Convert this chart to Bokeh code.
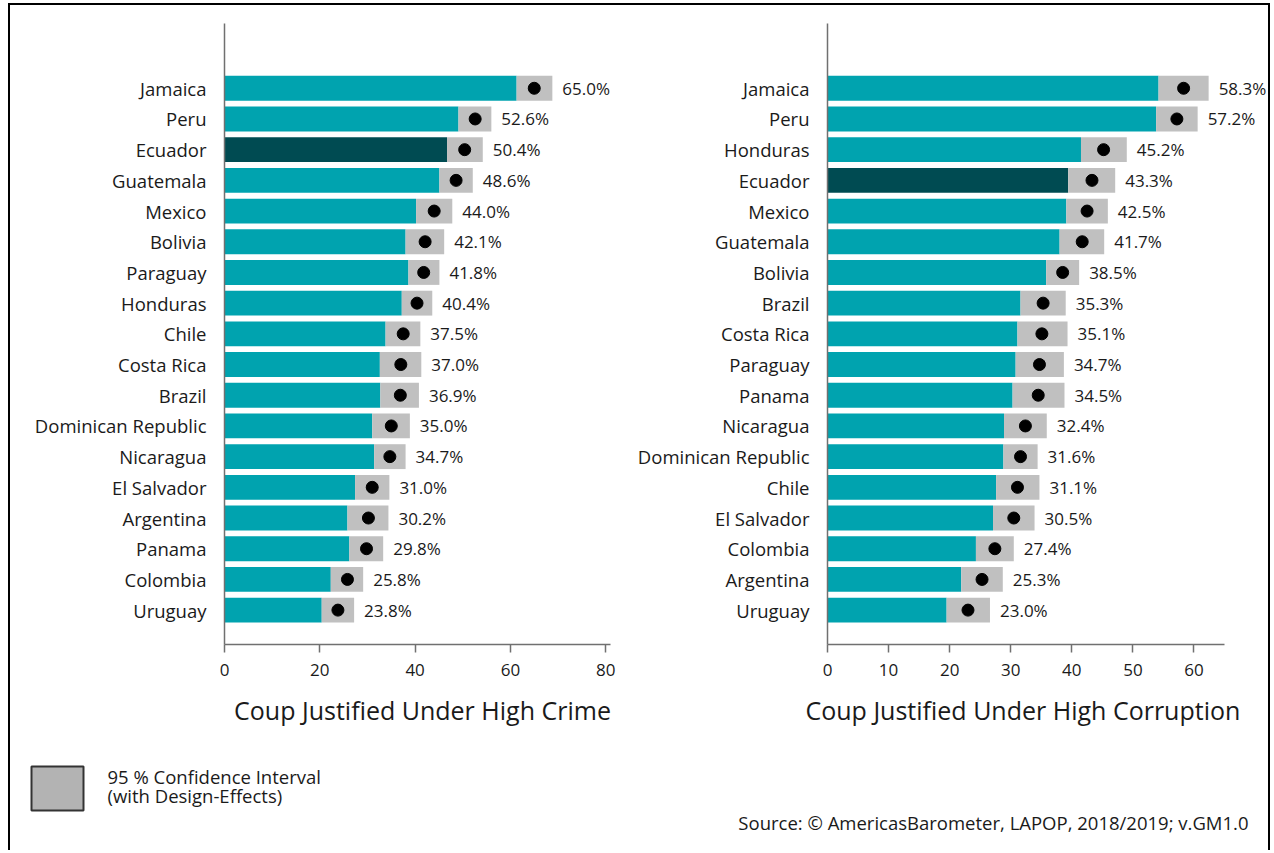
from bokeh.plotting import figure
from bokeh.layouts import row, column, Spacer
from bokeh.models import ColumnDataSource, LabelSet, FixedTicker, Range1d, Title
from bokeh.embed import file_html
from bokeh.resources import INLINE
from bokeh.core.properties import value

# ---------------- data ----------------
crime_countries = ["Jamaica", "Peru", "Ecuador", "Guatemala", "Mexico", "Bolivia", "Paraguay",
                   "Honduras", "Chile", "Costa Rica", "Brazil", "Dominican Republic", "Nicaragua",
                   "El Salvador", "Argentina", "Panama", "Colombia", "Uruguay"]
crime_est = [65.0, 52.6, 50.4, 48.6, 44.0, 42.1, 41.8, 40.4, 37.5, 37.0, 36.9, 35.0, 34.7,
             31.0, 30.2, 29.8, 25.8, 23.8]
crime_low = [61.3, 49.1, 46.7, 45.1, 40.2, 38.0, 38.6, 37.2, 33.8, 32.6, 32.7, 31.0, 31.4,
             27.4, 25.8, 26.2, 22.3, 20.4]
crime_high = [68.8, 56.0, 54.2, 52.1, 47.8, 46.1, 45.1, 43.6, 41.1, 41.3, 40.8, 38.9, 38.0,
              34.6, 34.4, 33.3, 29.1, 27.2]
crime_ticks = [0, 20, 40, 60, 80]

corr_countries = ["Jamaica", "Peru", "Honduras", "Ecuador", "Mexico", "Guatemala", "Bolivia",
                  "Brazil", "Costa Rica", "Paraguay", "Panama", "Nicaragua", "Dominican Republic",
                  "Chile", "El Salvador", "Colombia", "Argentina", "Uruguay"]
corr_est = [58.3, 57.2, 45.2, 43.3, 42.5, 41.7, 38.5, 35.3, 35.1, 34.7, 34.5, 32.4, 31.6,
            31.1, 30.5, 27.4, 25.3, 23.0]
corr_low = [54.2, 53.8, 41.5, 39.4, 39.1, 38.0, 35.8, 31.6, 31.1, 30.8, 30.3, 28.9, 28.8,
            27.6, 27.1, 24.3, 21.9, 19.5]
corr_high = [62.4, 60.6, 49.0, 47.1, 45.9, 45.3, 41.2, 39.0, 39.3, 38.7, 38.8, 35.9, 34.4,
             34.7, 33.9, 30.5, 28.7, 26.6]
corr_ticks = [0, 10, 20, 30, 40, 50, 60]

highlight = "Ecuador"
crime_title = "Coup Justified Under High Crime"
corr_title = "Coup Justified Under High Corruption"
legend_lines = ["95 % Confidence Interval", "(with Design-Effects)"]
source_text = "Source: \u00a9 AmericasBarometer, LAPOP, 2018/2019; v.GM1.0"

# ---------------- styles ----------------
FONT = "Open Sans"
TEAL = "#00A3AF"
DARK = "#004B52"
GRAY = "#C0C0C0"
TXT = "#1a1a1a"
AXIS = "#707070"

FIG_H = 735
FRAME_TOP = 18
FRAME_BOTTOM_PAD = 96


def panel(countries, est, low, high, ticks, xmax, axis_end, width, mb_left, mb_right):
    n = len(countries)
    ys = [n - 1 - i for i in range(n)]
    src = ColumnDataSource(dict(
        y=ys, country=countries, est=est, low=low, high=high,
        color=[DARK if c == highlight else TEAL for c in countries],
        label=[f"{v:.1f}%" for v in est],
    ))
    p = figure(width=width, height=FIG_H, output_backend="svg", toolbar_location=None,
               x_range=Range1d(0, xmax), y_range=Range1d(-1.12, n + 1.11),
               min_border_left=mb_left, min_border_right=mb_right,
               min_border_top=FRAME_TOP, min_border_bottom=FRAME_BOTTOM_PAD)
    p.outline_line_color = None
    p.grid.visible = False
    p.background_fill_color = "white"
    p.border_fill_color = "white"

    p.hbar(y="y", left=0, right="low", height=0.81, fill_color="color", line_color=None, source=src)
    p.hbar(y="y", left="low", right="high", height=0.81, fill_color=GRAY, line_color=None, source=src)
    p.scatter(x="est", y="y", size=12, fill_color="black", line_color="black", source=src)

    labels = LabelSet(x="high", y="y", text="label", x_offset=10, source=src,
                      text_baseline="middle", text_align="left", text_font=value(FONT),
                      text_font_size="17px", text_color=TXT)
    p.add_layout(labels)

    # y axis with country names
    p.yaxis.ticker = FixedTicker(ticks=ys)
    p.yaxis.major_label_overrides = {y: c for y, c in zip(ys, countries)}
    p.yaxis.major_tick_line_color = None
    p.yaxis.minor_tick_line_color = None
    p.yaxis.major_label_standoff = 12
    p.yaxis.major_label_text_font = FONT
    p.yaxis.major_label_text_font_size = "18.5px"
    p.yaxis.major_label_text_color = TXT
    p.yaxis.axis_line_color = AXIS
    p.yaxis.axis_line_width = 1.5

    # x axis
    p.xaxis.ticker = FixedTicker(ticks=ticks)
    p.xaxis.bounds = (0, axis_end)
    p.xaxis.minor_tick_line_color = None
    p.xaxis.major_tick_in = 0
    p.xaxis.major_tick_out = 8
    p.xaxis.major_tick_line_color = AXIS
    p.xaxis.major_tick_line_width = 1.5
    p.xaxis.axis_line_color = AXIS
    p.xaxis.axis_line_width = 1.5
    p.xaxis.major_label_standoff = 11
    p.xaxis.major_label_text_font = FONT
    p.xaxis.major_label_text_font_size = "17px"
    p.xaxis.major_label_text_color = TXT
    p.xaxis.axis_label_text_font = FONT
    p.xaxis.axis_label_text_font_size = "25px"
    p.xaxis.axis_label_text_font_style = "normal"
    p.xaxis.axis_label_text_color = TXT
    p.xaxis.axis_label_standoff = 14
    return p


p1 = panel(crime_countries, crime_est, crime_low, crime_high, crime_ticks, 83.1, 81,
           610, 214, 0)
p1.xaxis.axis_label = crime_title

p2 = panel(corr_countries, corr_est, corr_low, corr_high, corr_ticks, 72.2, 65,
           648, 207, 0)
# the frame is wider than the axis line (room for value labels), so the title is
# placed as a below-title shifted to start slightly left of the frame
p2.add_layout(Title(text=corr_title, align="left", offset=-22, vertical_align="bottom",
                    standoff=24, text_font=FONT, text_font_size="25px",
                    text_font_style="normal", text_color=TXT), "below")

# ---------------- bottom strip: legend + source ----------------
STRIP_W, STRIP_H = 1258, 110
strip = figure(width=STRIP_W, height=STRIP_H, output_backend="svg", toolbar_location=None,
               x_range=Range1d(0, STRIP_W), y_range=Range1d(STRIP_H, 0),
               x_axis_location=None, y_axis_location=None, min_border=0)
strip.outline_line_color = None
strip.grid.visible = False
strip.rect(x=[47], y=[48], width=[52], height=[44], fill_color="#B3B3B3",
           line_color="#333333", line_width=2)
strip.text(x=[97, 97], y=[36, 55], text=legend_lines, text_font=value(FONT),
           text_font_size="18.5px", text_baseline="middle", text_align="left", text_color=TXT)
strip.text(x=[1238], y=[82], text=[source_text], text_font=value(FONT),
           text_font_size="18.5px", text_baseline="middle", text_align="right", text_color=TXT)

framed = column(row(p1, p2), strip,
                styles={"border-left": "2px solid black", "border-top": "2px solid black",
                        "border-right": "2px solid black"})
layout = column(Spacer(height=3), row(Spacer(width=8), framed))

open("out.html", "w").write(file_html(layout, INLINE))
